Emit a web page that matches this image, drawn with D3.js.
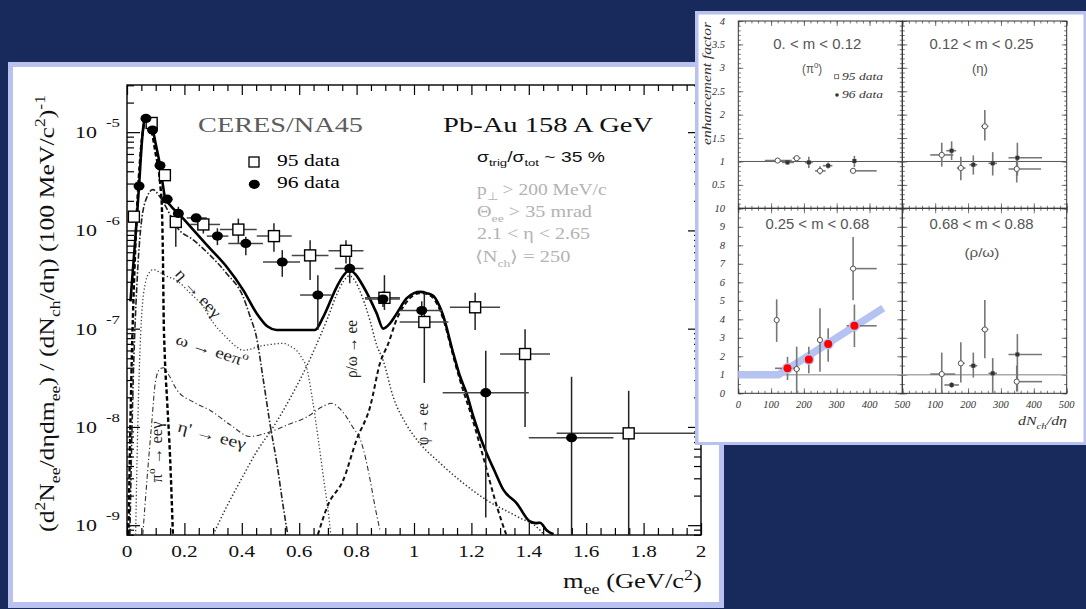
<!DOCTYPE html>
<html><head><meta charset="utf-8">
<script src="https://cdn.jsdelivr.net/npm/d3@7"></script>
<style>html,body{margin:0;padding:0;background:#182a5b;overflow:hidden}svg{display:block}</style>
</head><body>
<svg id="chart" width="1086" height="609"></svg>
<script>
// ---------------- main spectrum data ----------------
const massTicks = [0, 0.2, 0.4, 0.6, 0.8, 1, 1.2, 1.4, 1.6, 1.8, 2];
const decadeExps = [-5, -6, -7, -8, -9];

// [m, value, mLow, mHigh, valueLow, valueHigh]
const data95 = [
  [0.024, 1.38e-6, 0.024, 0.024, 1.38e-6, 1.38e-6],
  [0.086, 1.24e-5, 0.086, 0.086, 1.24e-5, 1.24e-5],
  [0.132, 3.65e-6, 0.132, 0.132, 3.65e-6, 3.65e-6],
  [0.170, 1.22e-6, 0.160, 0.180, 6.8e-7, 1.30e-6],
  [0.266, 1.15e-6, 0.220, 0.324, 9.3e-7, 1.32e-6],
  [0.388, 1.02e-6, 0.324, 0.452, 7.4e-7, 1.32e-6],
  [0.512, 8.75e-7, 0.452, 0.574, 6.05e-7, 1.18e-6],
  [0.638, 5.57e-7, 0.574, 0.702, 3.12e-7, 7.96e-7],
  [0.763, 6.2e-7, 0.702, 0.824, 4.6e-7, 7.96e-7],
  [0.897, 2.06e-7, 0.829, 0.951, 1.55e-7, 3.5e-7],
  [1.036, 1.17e-7, 0.950, 1.120, 2.8e-8, 2.3e-7],
  [1.213, 1.65e-7, 1.125, 1.300, 9.7e-8, 2.32e-7],
  [1.387, 5.52e-8, 1.300, 1.474, 1.0e-8, 9.84e-8],
  [1.748, 8.6e-9, 1.497, 2.000, 3e-10, 2.33e-8]
];
const data96 = [
  [0.042, 2.83e-6, 0.042, 0.042, 2.83e-6, 2.83e-6],
  [0.066, 1.38e-5, 0.066, 0.066, 1.38e-5, 1.38e-5],
  [0.089, 1.05e-5, 0.089, 0.089, 1.05e-5, 1.05e-5],
  [0.115, 4.58e-6, 0.115, 0.115, 4.58e-6, 4.58e-6],
  [0.140, 2.08e-6, 0.140, 0.140, 2.08e-6, 2.08e-6],
  [0.179, 1.49e-6, 0.165, 0.195, 1.22e-6, 1.74e-6],
  [0.241, 1.34e-6, 0.208, 0.278, 1.25e-6, 1.45e-6],
  [0.315, 8.75e-7, 0.278, 0.353, 7.08e-7, 1.05e-6],
  [0.414, 7.38e-7, 0.353, 0.474, 5.6e-7, 8.6e-7],
  [0.541, 4.77e-7, 0.474, 0.603, 3.37e-7, 6.3e-7],
  [0.665, 2.2e-7, 0.603, 0.713, 9.7e-8, 3.5e-7],
  [0.776, 4.1e-7, 0.724, 0.824, 2.9e-7, 5.4e-7],
  [0.892, 2.0e-7, 0.829, 0.951, 1.66e-7, 2.4e-7],
  [1.027, 1.53e-7, 0.950, 1.100, 1.1e-7, 1.9e-7],
  [1.250, 2.23e-8, 1.100, 1.400, 1.2e-9, 5.96e-8],
  [1.549, 7.76e-9, 1.400, 1.695, 3e-10, 3.24e-8]
];

// hadronic cocktail, [m, value]
const cocktailTotal = [
  [0.012,1.9e-7],[0.03,9e-7],[0.042,2.83e-6],[0.052,8e-6],[0.06,1.3e-5],[0.068,1.41e-5],
  [0.078,1.33e-5],[0.09,1.05e-5],[0.1,7.6e-6],[0.115,4.58e-6],[0.125,2.9e-6],[0.132,2.2e-6],
  [0.15,1.81e-6],[0.185,1.43e-6],[0.231,1.01e-6],[0.289,6.56e-7],[0.347,4.27e-7],[0.405,2.47e-7],
  [0.452,1.43e-7],[0.49,1.05e-7],[0.521,9.7e-8],[0.591,9.7e-8],[0.655,9.7e-8],[0.684,1.32e-7],
  [0.731,2.67e-7],[0.755,3.5e-7],[0.776,3.95e-7],[0.795,3.6e-7],[0.824,2.67e-7],[0.87,1.43e-7],
  [0.893,1.0e-7],[0.915,1.12e-7],[0.94,1.43e-7],[0.974,2.03e-7],[1.0,2.3e-7],[1.021,2.37e-7],
  [1.045,2.3e-7],[1.068,2.15e-7],[1.1,1.4e-7],[1.137,5.6e-8],[1.16,3.3e-8],[1.183,2.2e-8],
  [1.207,1.27e-8],[1.23,8e-9],[1.253,5.4e-9],[1.28,3.6e-9],[1.311,2.3e-9],[1.358,1.67e-9],
  [1.404,1.09e-9],[1.425,1.05e-9],[1.439,1.06e-9],[1.462,8.9e-10],[1.486,8.1e-10]
];
const pi0Dalitz = [
  [0.005,8e-10],[0.015,3e-8],[0.03,8e-7],[0.045,5e-6],[0.06,1.2e-5],[0.068,1.3e-5],[0.085,1.05e-5],
  [0.1,6e-6],[0.112,3.8e-6],[0.118,2.5e-6],[0.121,1.9e-6],[0.125,6e-7],[0.128,1.2e-7],[0.131,6e-8],
  [0.14,1.8e-8],[0.15,5e-9],[0.16,8e-10]
];
const etaDalitz = [
  [0.01,8e-10],[0.02,2e-8],[0.035,3e-7],[0.05,1.2e-6],[0.07,2.2e-6],[0.09,2.6e-6],[0.11,2.3e-6],
  [0.13,1.85e-6],[0.15,1.45e-6],[0.173,1.09e-6],[0.231,8e-7],[0.289,5.6e-7],[0.347,3.65e-7],
  [0.405,2.1e-7],[0.43,1.3e-7],[0.45,8.5e-8],[0.475,3e-8],[0.5,1e-8],[0.522,4.3e-9],[0.545,1.5e-9],[0.56,8e-10]
];
const omegaDalitz = [
  [0.03,8e-10],[0.04,2e-8],[0.05,1.2e-7],[0.065,3e-7],[0.08,3.8e-7],[0.092,4e-7],[0.11,3.8e-7],
  [0.14,3.4e-7],[0.173,3.1e-7],[0.22,2.3e-7],[0.266,1.67e-7],[0.3,1.15e-7],[0.34,8.5e-8],
  [0.38,6.6e-8],[0.405,6e-8],[0.43,6.2e-8],[0.452,6.5e-8],[0.5,6.9e-8],[0.545,7.1e-8],[0.57,6.6e-8],
  [0.591,6e-8],[0.61,5e-8],[0.626,4e-8],[0.645,2e-8],[0.665,8e-9],[0.685,3e-9],[0.705,1.1e-9],[0.712,7e-10]
];
const etaPrimeDalitz = [
  [0.055,8e-10],[0.07,3e-9],[0.085,1e-8],[0.1,3e-8],[0.115,3.9e-8],[0.127,4e-8],[0.145,3.4e-8],
  [0.173,2.4e-8],[0.23,1.8e-8],[0.289,1.48e-8],[0.36,1.05e-8],[0.429,8e-9],[0.498,8.9e-9],
  [0.56,1.05e-8],[0.626,1.26e-8],[0.68,1.6e-8],[0.713,1.74e-8],[0.74,1.55e-8],[0.765,1.26e-8],
  [0.79,9.6e-9],[0.812,7.6e-9],[0.83,5e-9],[0.847,2.9e-9],[0.865,1.5e-9],[0.881,9e-10]
];
const rhoOmegaEE = [
  [0.30,8e-10],[0.35,1.6e-9],[0.4,3e-9],[0.45,5.5e-9],[0.51,1e-8],[0.57,2e-8],[0.627,4.2e-8],
  [0.67,8e-8],[0.7,1.3e-7],[0.73,2.2e-7],[0.755,3.05e-7],[0.775,3.45e-7],[0.795,3.05e-7],
  [0.812,2.4e-7],[0.847,1.2e-7],[0.87,6.8e-8],[0.892,4.8e-8],[0.928,2e-8],[0.97,1.1e-8],
  [1.01,7.4e-9],[1.09,4.3e-9],[1.17,2.7e-9],[1.253,1.8e-9],[1.358,1.23e-9],[1.439,8.9e-10],[1.46,7.5e-10]
];
const phiEE = [
  [0.665,8e-10],[0.7,1.6e-9],[0.754,2.9e-9],[0.80,7.4e-9],[0.847,1.6e-8],[0.882,4.5e-8],[0.91,7e-8],
  [0.94,1.25e-7],[0.97,1.8e-7],[1.0,2.2e-7],[1.022,2.3e-7],[1.045,2.25e-7],[1.07,2e-7],[1.1,1.3e-7],
  [1.137,5.2e-8],[1.16,3e-8],[1.2,1.3e-8],[1.247,4.3e-9],[1.28,1.9e-9],[1.305,1.1e-9],[1.325,7.5e-10]
];

// ---------------- enhancement factor panels ----------------
const multTicks = [0, 100, 200, 300, 400, 500];
const enhTicksTop = [0.5, 1, 1.5, 2, 2.5, 3, 3.5, 4];
const enhTicksLow = [0, 1, 2, 3, 4, 5, 6, 7, 8, 9, 10];
// [dNch/deta, factor, xLow, xHigh, factorLow, factorHigh]
const piOpen95 = [[120,1.02,81,163,0.97,1.07],[178,1.07,166,190,1.02,1.12],[249,0.80,234,266,0.72,0.90],[350,0.80,340,422,0.76,0.84]];
const piFilled96 = [[150,0.98,133,170,0.93,1.03],[215,0.98,203,227,0.86,1.10],[274,0.91,258,287,0.85,0.98],[354,1.01,350,358,0.88,1.12]];
const etaOpen95 = [[120,1.14,85,155,0.89,1.40],[178,0.86,166,192,0.60,1.10],[251,1.75,240,262,1.45,2.10],[348,0.84,323,422,0.55,1.07]];
const etaFilled96 = [[150,1.23,134,164,1.03,1.43],[216,0.93,204,228,0.72,1.13],[275,0.96,262,288,0.70,1.20],[350,1.08,323,425,0.70,1.40]];
const lowOpen95 = [[117,3.96,110,125,2.78,5.08],[178,1.31,170,188,0,2.52],[249,2.88,240,258,1.17,4.60],[350,6.74,340,422,5.03,8.45]];
const lowFilled96 = [[150,1.35,112,172,0.72,1.97],[215,1.83,205,228,1.08,2.52],[274,2.66,262,290,1.70,3.52],[354,3.65,330,422,2.50,4.80]];
const rhoOpen95 = [[120,1.04,85,161,0,2.20],[178,1.62,170,190,0.58,2.76],[251,3.45,240,262,1.90,5.05],[348,0.63,348,425,0.10,1.50]];
const rhoFilled96 = [[150,0.45,128,172,0.30,0.60],[216,1.49,204,228,0.85,2.20],[275,1.08,262,288,0,1.90],[350,2.10,323,425,0.10,3.20]];
const trendPoints = [[150,1.35],[215,1.83],[274,2.66],[354,3.65]];
const trendLine = [[0,1],[122,1],[442,4.6]];

// ---------------- helpers ----------------
const svg = d3.select('#chart');

// text with sub/superscript parts, stretched horizontally to a target width
function label(parent, o) {
  const size = o.size;
  const g = parent.append('g').attr('transform', `translate(${o.x},${o.y}) rotate(${o.rotate || 0})`);
  const t = g.append('text')
    .attr('font-family', o.family || 'Liberation Serif')
    .attr('font-size', size)
    .attr('fill', o.fill || '#000')
    .attr('text-anchor', o.anchor || 'start');
  if (o.italic) t.attr('font-style', 'italic');
  if (o.weight) t.attr('font-weight', o.weight);
  const segs = typeof o.parts === 'string' ? [{t: o.parts}] : o.parts;
  let shift = 0;
  const base = o.mid ? size * 0.35 : 0;
  segs.forEach((s, i) => {
    const want = s.sub ? size * 0.3 : s.sup ? -size * 0.42 : 0;
    const ts = t.append('tspan').text(s.t).attr('dy', want - shift + (i === 0 ? base : 0));
    if (s.sub || s.sup) ts.attr('font-size', size * 0.68);
    shift = want;
  });
  let k = o.sx || 1;
  if (o.width) { const w = t.node().getComputedTextLength(); if (w > 0) k = o.width / w; }
  t.attr('transform', `scale(${k},1)`);
  return g;
}

// ---------------- main panel ----------------
svg.append('rect').attr('x', 8).attr('y', 62).attr('width', 716).attr('height', 546).attr('fill', '#b9c1ef');
svg.append('rect').attr('x', 13).attr('y', 67).attr('width', 706).attr('height', 535).attr('fill', '#fff');

const X0 = 127, X1 = 701, Y0 = 85, Y1 = 535;
const x = d3.scaleLinear().domain([0, 2]).range([X0, X1]);
const y = d3.scaleLog().domain([Math.pow(10, -9.10), Math.pow(10, -4.52)]).range([Y1, Y0]);

const main = svg.append('g');
main.append('clipPath').attr('id', 'plotClip').append('rect')
  .attr('x', X0).attr('y', Y0).attr('width', X1 - X0).attr('height', Y1 - Y0);

// tick marks, all pointing inward
const mAll = d3.range(0, 2.0001, 0.05).map(v => +v.toFixed(2));
const isMajorM = v => Math.abs(v / 0.2 - Math.round(v / 0.2)) < 1e-6;
const logMinor = [], logMajor = [];
for (let e = -10; e <= -4; e++) for (let k = 1; k <= 9; k++) {
  const v = k * Math.pow(10, e);
  if (v >= y.domain()[0] && v <= y.domain()[1]) (k === 1 ? logMajor : logMinor).push(v);
}
function ticks(axis, pos, vals, len) {
  const g = main.append('g').attr('transform', pos)
    .call(axis.tickValues(vals).tickSize(len).tickFormat(''));
  g.select('.domain').remove();
  g.selectAll('line').attr('stroke', '#000').attr('stroke-width', 1.2);
}
ticks(d3.axisBottom(x), `translate(0,${Y0})`, mAll.filter(v => !isMajorM(v)), 6);
ticks(d3.axisBottom(x), `translate(0,${Y0})`, mAll.filter(isMajorM), 10);
ticks(d3.axisTop(x), `translate(0,${Y1})`, mAll.filter(v => !isMajorM(v)), 7);
ticks(d3.axisTop(x), `translate(0,${Y1})`, mAll.filter(isMajorM), 12);
ticks(d3.axisRight(y), `translate(${X0},0)`, logMinor, 7);
ticks(d3.axisRight(y), `translate(${X0},0)`, logMajor, 13);
ticks(d3.axisLeft(y), `translate(${X1},0)`, logMinor, 7);
ticks(d3.axisLeft(y), `translate(${X1},0)`, logMajor, 13);

main.append('rect').attr('x', X0).attr('y', Y0).attr('width', X1 - X0).attr('height', Y1 - Y0)
  .attr('fill', 'none').attr('stroke', '#000').attr('stroke-width', 1.4);

// tick labels
massTicks.forEach(v => label(main, {x: x(v), y: 557, parts: String(v), size: 17, anchor: 'middle', sx: 1.25, fill: '#111'}));
decadeExps.forEach(e => {
  const py = y(Math.pow(10, e));
  label(main, {x: 97, y: py + 6, parts: '10', size: 17, anchor: 'end', width: 22, fill: '#111'});
  label(main, {x: 106, y: py - 5, parts: String(e), size: 13, anchor: 'start', width: 14, fill: '#111'});
});

// axis titles
label(main, {x: 54, y: 313.5, rotate: -90, anchor: 'middle', size: 21, width: 437, fill: '#111', parts: [
  {t: '(d'}, {t: '2', sup: true}, {t: 'N'}, {t: 'ee', sub: true}, {t: '/dηdm'}, {t: 'ee', sub: true},
  {t: ') / (dN'}, {t: 'ch', sub: true}, {t: '/dη) (100 MeV/c'}, {t: '2', sup: true}, {t: ')'}, {t: '-1', sup: true}]});
label(main, {x: 563, y: 588, size: 20, width: 139, fill: '#111', parts: [
  {t: 'm'}, {t: 'ee', sub: true}, {t: ' (GeV/c'}, {t: '2', sup: true}, {t: ')'}]});

// cocktail curves
const line = d3.line().x(d => x(d[0])).y(d => y(d[1])).curve(d3.curveMonotoneX);
const curves = main.append('g').attr('clip-path', 'url(#plotClip)').attr('fill', 'none');
const curveStyles = [
  [rhoOmegaEE, '#333', 1.5, '1.4,2.2'],
  [omegaDalitz, '#444', 1.3, '1.3,2.2'],
  [etaPrimeDalitz, '#333', 1.1, '5,2.5,1.2,2.5'],
  [phiEE, '#111', 2.0, '4.5,3'],
  [etaDalitz, '#222', 1.6, '6,2,1.5,2'],
  [pi0Dalitz, '#000', 2.4, '4.5,2.5'],
  [cocktailTotal, '#000', 2.6, null]
];
curveStyles.forEach(([pts, col, w, dash]) => {
  const p = curves.append('path').attr('d', line(pts)).attr('stroke', col).attr('stroke-width', w)
    .attr('stroke-linejoin', 'round');
  if (dash) p.attr('stroke-dasharray', dash);
});

// curve labels
const curveLabels = [
  {x: 198.5, y: 293, rotate: 48, width: 60, parts: 'η → eeγ'},
  {x: 212, y: 350, rotate: 18, width: 75, parts: [{t: 'ω → eeπ'}, {t: 'o', sup: true}]},
  {x: 212, y: 435, rotate: 15, width: 70, parts: "η' → eeγ"},
  {x: 156.5, y: 452, rotate: -90, width: 61, parts: [{t: 'π'}, {t: 'o', sup: true}, {t: ' → eeγ'}]},
  {x: 351.5, y: 349, rotate: -90, width: 58, parts: 'ρ/ω → ee'},
  {x: 422.5, y: 424, rotate: -90, width: 42, parts: 'φ → ee'}
];
curveLabels.forEach(l => label(main, Object.assign({size: 16, anchor: 'middle', mid: true, fill: '#222'}, l)));

// data points with error bars
const pts = main.append('g').attr('clip-path', 'url(#plotClip)');
[...data95, ...data96].forEach(d => {
  if (d[3] > d[2]) pts.append('line').attr('x1', x(d[2])).attr('x2', x(d[3])).attr('y1', y(d[1])).attr('y2', y(d[1]))
    .attr('stroke', '#444').attr('stroke-width', 1.5);
  if (d[5] > d[4]) pts.append('line').attr('x1', x(d[0])).attr('x2', x(d[0])).attr('y1', y(d[4])).attr('y2', y(d[5]))
    .attr('stroke', '#222').attr('stroke-width', 1.5);
});
data95.forEach(d => pts.append('rect').attr('x', x(d[0]) - 5.5).attr('y', y(d[1]) - 5.5).attr('width', 11).attr('height', 11)
  .attr('fill', '#fff').attr('stroke', '#000').attr('stroke-width', 1.4));
data96.forEach(d => pts.append('ellipse').attr('cx', x(d[0])).attr('cy', y(d[1])).attr('rx', 5.5).attr('ry', 4.6).attr('fill', '#000'));

// legend and run conditions
main.append('rect').attr('x', 249).attr('y', 157).attr('width', 10).attr('height', 10)
  .attr('fill', '#fff').attr('stroke', '#000').attr('stroke-width', 1.3);
main.append('ellipse').attr('cx', 254.3).attr('cy', 184.3).attr('rx', 5.5).attr('ry', 4.6).attr('fill', '#000');
label(main, {x: 277, y: 166, size: 17, width: 63, parts: '95 data'});
label(main, {x: 277, y: 188, size: 17, width: 63, parts: '96 data'});
label(main, {x: 280.5, y: 132, size: 21, width: 165, anchor: 'middle', fill: '#5c5c5c', parts: 'CERES/NA45'});
label(main, {x: 548, y: 132, size: 22, width: 210, anchor: 'middle', fill: '#111', parts: 'Pb-Au 158 A GeV'});
label(main, {x: 477, y: 162, size: 14, width: 128, family: 'Liberation Sans', fill: '#111', parts: [
  {t: 'σ'}, {t: 'trig', sub: true}, {t: '/σ'}, {t: 'tot', sub: true}, {t: ' ~ 35 %'}]});
const grey = '#b3b3b3';
label(main, {x: 477, y: 195, size: 16, width: 131, fill: grey, parts: [{t: 'p'}, {t: '⊥', sub: true}, {t: ' > 200 MeV/c'}]});
label(main, {x: 477, y: 217, size: 16, width: 115, fill: grey, parts: [{t: 'Θ'}, {t: 'ee', sub: true}, {t: ' > 35 mrad'}]});
label(main, {x: 477, y: 239, size: 16, width: 113, fill: grey, parts: '2.1 < η < 2.65'});
label(main, {x: 475, y: 262, size: 16, width: 95, fill: grey, parts: [{t: '⟨N'}, {t: 'ch', sub: true}, {t: '⟩ = 250'}]});

// ---------------- inset ----------------
const inset = svg.append('g');
inset.append('rect').attr('x', 695).attr('y', 11).attr('width', 391).attr('height', 434).attr('fill', '#b9c1ef');
inset.append('rect').attr('x', 698.5).attr('y', 14.5).attr('width', 385).attr('height', 427.5).attr('fill', '#fff');

const colX = [[738.3, 902.3], [902.3, 1066.7]];
const rowY = [[208.3, 21], [393.3, 208.3]];
const rowDomain = [[0, 4], [0, 10]];
const panels = [
  {col: 0, row: 0, title: '0. < m < 0.12', sub: [{t: '(π'}, {t: 'o', sup: true}, {t: ')'}], subAt: 225, subW: 20, open: piOpen95, filled: piFilled96},
  {col: 1, row: 0, title: '0.12 < m < 0.25', sub: '(η)', subAt: 236, subW: 16, open: etaOpen95, filled: etaFilled96},
  {col: 0, row: 1, title: '0.25 < m < 0.68', sub: null, open: lowOpen95, filled: lowFilled96},
  {col: 1, row: 1, title: '0.68 < m < 0.88', sub: '(ρ/ω)', subAt: 242, subW: 35, open: rhoOpen95, filled: rhoFilled96}
];

panels.forEach(p => {
  const px = d3.scaleLinear().domain([0, 500]).range(colX[p.col]);
  const py = d3.scaleLinear().domain(rowDomain[p.row]).range(rowY[p.row]);
  const g = inset.append('g');
  const [xa, xb] = px.range(), [yb, ya] = py.range();
  // ticks
  const xMinor = d3.range(0, 501, 20);
  const yStep = p.row === 0 ? 0.1 : 0.5;
  const yMinor = d3.range(py.domain()[0], py.domain()[1] + 1e-9, yStep);
  const yMajor = p.row === 0 ? d3.range(0, 4.01, 0.5) : d3.range(0, 10.01, 1);
  const tk = (axis, pos, vals, len) => {
    const a = g.append('g').attr('transform', pos).call(axis.tickValues(vals).tickSize(len).tickFormat(''));
    a.select('.domain').remove();
    a.selectAll('line').attr('stroke', '#555').attr('stroke-width', 0.8);
  };
  tk(d3.axisTop(px), `translate(0,${yb})`, xMinor, 2.5);
  tk(d3.axisTop(px), `translate(0,${yb})`, multTicks, 5);
  tk(d3.axisBottom(px), `translate(0,${ya})`, xMinor, 2.5);
  tk(d3.axisBottom(px), `translate(0,${ya})`, multTicks, 5);
  tk(d3.axisRight(py), `translate(${xa},0)`, yMinor, 2.5);
  tk(d3.axisRight(py), `translate(${xa},0)`, yMajor, 5);
  tk(d3.axisLeft(py), `translate(${xb},0)`, yMinor, 2.5);
  tk(d3.axisLeft(py), `translate(${xb},0)`, yMajor, 5);
  g.append('rect').attr('x', xa).attr('y', ya).attr('width', xb - xa).attr('height', yb - ya)
    .attr('fill', 'none').attr('stroke', '#333').attr('stroke-width', 1);
  // unity reference
  g.append('line').attr('x1', xa).attr('x2', xb).attr('y1', py(1)).attr('y2', py(1))
    .attr('stroke', p.row === 0 ? '#555' : '#aaa').attr('stroke-width', p.row === 0 ? 1 : 1.6);

  if (p.row === 1 && p.col === 0) {
    const tl = d3.line().x(d => px(d[0])).y(d => py(d[1]));
    g.append('path').attr('d', tl(trendLine)).attr('fill', 'none').attr('stroke', '#b5c3f3')
      .attr('stroke-width', 7.5).attr('stroke-linejoin', 'round');
  }
  // error bars
  [...p.open, ...p.filled].forEach(d => {
    g.append('line').attr('x1', px(d[2])).attr('x2', px(d[3])).attr('y1', py(d[1])).attr('y2', py(d[1]))
      .attr('stroke', '#777').attr('stroke-width', 1.6);
    g.append('line').attr('x1', px(d[0])).attr('x2', px(d[0])).attr('y1', py(d[4])).attr('y2', py(d[5]))
      .attr('stroke', '#777').attr('stroke-width', 1.6);
  });
  p.open.forEach(d => g.append('circle').attr('cx', px(d[0])).attr('cy', py(d[1])).attr('r', 2.6)
    .attr('fill', '#fff').attr('stroke', '#555').attr('stroke-width', 1));
  p.filled.forEach(d => g.append('rect').attr('x', px(d[0]) - 2).attr('y', py(d[1]) - 2).attr('width', 4).attr('height', 4)
    .attr('fill', '#333'));
  if (p.row === 1 && p.col === 0) {
    trendPoints.forEach(d => {
      g.append('circle').attr('cx', px(d[0])).attr('cy', py(d[1])).attr('r', 5.5).attr('fill', '#b5c3f3');
      g.append('circle').attr('cx', px(d[0])).attr('cy', py(d[1])).attr('r', 4).attr('fill', '#f00');
    });
  }
  // titles
  label(g, {x: px(250) - 3, y: p.row === 0 ? 49 : 229, size: 14, width: p.title.length > 13 ? 104 : 88,
    anchor: 'middle', family: 'Liberation Sans', fill: '#555', parts: p.title});
  if (p.sub) label(g, {x: px(p.subAt), y: p.row === 0 ? 73 : 257, size: 13, width: p.subW,
    anchor: 'middle', family: 'Liberation Sans', fill: '#555', parts: p.sub});
  // axis labels
  if (p.col === 0) {
    (p.row === 0 ? enhTicksTop : enhTicksLow).forEach(v => label(g, {x: 725, y: py(v) + 3.5, size: 10.5,
      anchor: 'end', italic: true, fill: '#333', parts: String(v)}));
  }
  if (p.row === 1) {
    multTicks.filter(v => p.col === 0 || v > 0).forEach(v => label(g, {x: px(v), y: 408, size: 10.5,
      anchor: 'middle', italic: true, fill: '#333', parts: String(v)}));
  }
});

// inset legend and titles
inset.append('rect').attr('x', 834.7).attr('y', 74.7).attr('width', 4).attr('height', 4)
  .attr('fill', '#fff').attr('stroke', '#555').attr('stroke-width', 0.8);
inset.append('circle').attr('cx', 837).attr('cy', 95).attr('r', 1.8).attr('fill', '#333');
label(inset, {x: 842, y: 80, size: 10, width: 41, italic: true, fill: '#333', parts: '95 data'});
label(inset, {x: 842, y: 98.3, size: 10, width: 41, italic: true, fill: '#333', parts: '96 data'});
label(inset, {x: 711, y: 83.5, rotate: -90, size: 12, width: 123, anchor: 'middle', italic: true, fill: '#333', parts: 'enhancement factor'});
label(inset, {x: 1067, y: 425, size: 13, width: 49, anchor: 'end', italic: true, fill: '#333', parts: [
  {t: 'dN'}, {t: 'ch', sub: true}, {t: '/dη'}]});
</script>
</body></html>
